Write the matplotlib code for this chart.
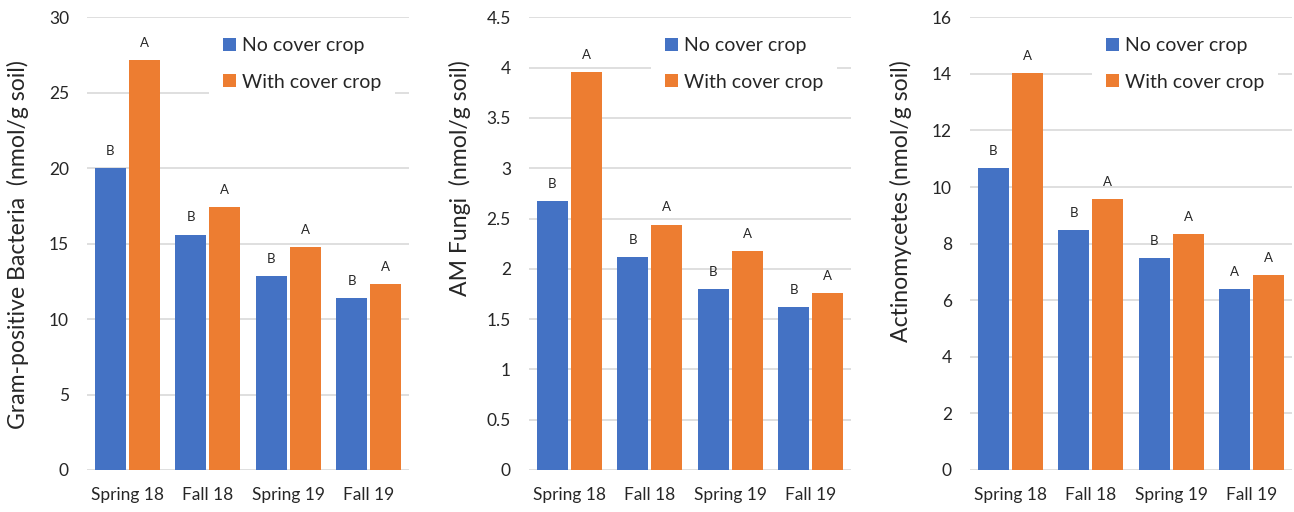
import matplotlib
matplotlib.use("Agg")
import matplotlib.pyplot as plt
import numpy as np

plt.rcParams['font.family'] = ['Lato', 'DejaVu Sans']

seasons = ["Spring 18", "Fall 18", "Spring 19", "Fall 19"]
series_names = ["No cover crop", "With cover crop"]

gram_pos_no = [20.0, 15.6, 12.87, 11.37]
gram_pos_with = [27.15, 17.4, 14.8, 12.3]
gram_pos_letters_no = ["B", "B", "B", "B"]
gram_pos_letters_with = ["A", "A", "A", "A"]

amf_no = [2.67, 2.12, 1.80, 1.62]
amf_with = [3.96, 2.44, 2.18, 1.76]
amf_letters_no = ["B", "B", "B", "B"]
amf_letters_with = ["A", "A", "A", "A"]

actino_no = [10.66, 8.47, 7.48, 6.41]
actino_with = [14.03, 9.59, 8.33, 6.89]
actino_letters_no = ["B", "B", "B", "A"]
actino_letters_with = ["A", "A", "A", "A"]

panels = [
    dict(no=gram_pos_no, wc=gram_pos_with, ln=gram_pos_letters_no, lw=gram_pos_letters_with,
         ylabel="Gram-positive Bacteria  (nmol/g soil)", ymax=30, step=5),
    dict(no=amf_no, wc=amf_with, ln=amf_letters_no, lw=amf_letters_with,
         ylabel="AM Fungi  (nmol/g soil)", ymax=4.5, step=0.5),
    dict(no=actino_no, wc=actino_with, ln=actino_letters_no, lw=actino_letters_with,
         ylabel="Actinomycetes (nmol/g soil)", ymax=16, step=2),
]

BLUE = "#4472C4"
ORANGE = "#ED7D31"
GRID = "#D9D9D9"
TEXT = "#262626"

fig = plt.figure(figsize=(12.94, 5.12), dpi=100)
lefts = [87 / 1294, 529 / 1294, 970 / 1294]
bottom = 1 - 470 / 512
height = (470 - 17.3) / 512
width = 322 / 1294

x = np.arange(len(seasons))
bw = 0.385
off = 0.21

for left, p in zip(lefts, panels):
    ax = fig.add_axes([left, bottom, width, height])
    ax.bar(x - off, p["no"], bw, color=BLUE, label=series_names[0], zorder=2)
    ax.bar(x + off, p["wc"], bw, color=ORANGE, label=series_names[1], zorder=2)
    for xi, v, t in zip(x - off, p["no"], p["ln"]):
        ax.annotate(t, (xi, v), xytext=(0, 8), textcoords="offset points",
                    ha="center", va="bottom", fontsize=9.5, color=TEXT)
    for xi, v, t in zip(x + off, p["wc"], p["lw"]):
        ax.annotate(t, (xi, v), xytext=(0, 8), textcoords="offset points",
                    ha="center", va="bottom", fontsize=9.5, color=TEXT)

    ax.set_xlim(-0.5, len(seasons) - 0.5)
    ax.set_ylim(0, p["ymax"])
    ticks = np.arange(0, p["ymax"] + p["step"] / 2, p["step"])
    ax.set_yticks(ticks)
    ax.set_yticklabels([f"{t:g}" for t in ticks])
    ax.set_xticks(x)
    ax.set_xticklabels(seasons)
    ax.tick_params(axis="both", length=0, labelsize=12.5, labelcolor=TEXT)
    ax.tick_params(axis="y", pad=13)
    ax.tick_params(axis="x", pad=12)
    for s in ax.spines.values():
        s.set_visible(False)
    ax.yaxis.grid(True, color=GRID, linewidth=1.2, zorder=0)
    ax.set_axisbelow(True)

    ax.set_ylabel(p["ylabel"], fontsize=16.6, color=TEXT, loc="top")
    ax.yaxis.set_label_coords(-0.18, 0.906)

    leg = ax.legend(loc="center", bbox_to_anchor=(0.669, 0.897), frameon=True,
                    fancybox=False, framealpha=1, facecolor="white", edgecolor="none",
                    fontsize=14, handlelength=0.65, handleheight=0.65,
                    handletextpad=0.35, labelspacing=1.0, borderpad=0.7,
                    borderaxespad=0)
    for t in leg.get_texts():
        t.set_color(TEXT)
    leg.set_zorder(3)

fig.savefig("out.png", dpi=100, facecolor="white")
